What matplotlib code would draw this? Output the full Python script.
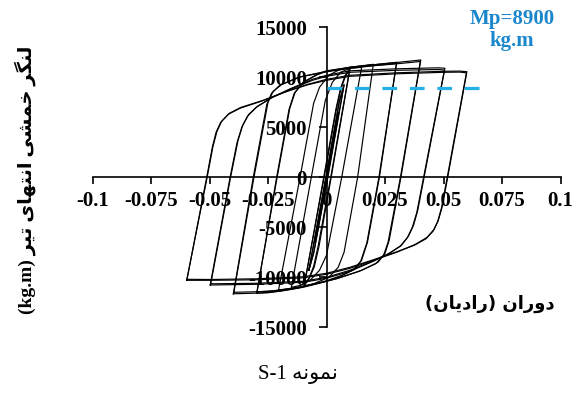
import numpy as np
import matplotlib
matplotlib.use("Agg")
import matplotlib.pyplot as plt

plt.rcParams['axes.unicode_minus'] = False

# Hysteresis loops: rotation (rad), end moment (kg.m)
# each loop = upward branch (neg. peak -> pos. peak) + downward branch (pos. peak -> neg. peak)
loop_00375_up = [(-0.00375, -4900), (0.0, 150), (0.00375, 4900)]
loop_00375_dn = [(0.00375, 4900), (0.0, -150), (-0.00375, -4900)]
loop_005_up = [(-0.005, -6500), (-0.0001, 0), (0.005, 6500)]
loop_005_dn = [(0.005, 6500), (0.0001, 0), (-0.005, -6500)]
loop_0075_up = [(-0.0075, -9300), (-0.0003, 0), (0.0055, 7600), (0.0075, 9300)]
loop_0075_dn = [(0.0075, 9300), (0.0004, 0), (-0.0055, -7600), (-0.0075, -9300)]
loop_0075b_up = [(-0.0075, -9200), (-0.0002, 0), (0.0054, 7500), (0.0075, 9200)]
loop_0075b_dn = [(0.0075, 9200), (0.0006, 0), (-0.0054, -7500), (-0.0075, -9200)]
loop_01_up = [(-0.0095, -10850), (-0.0012, 0), (0.0040, 6800), (0.0060, 8900),
              (0.0080, 10200), (0.010, 10900)]
loop_01_dn = [(0.010, 10900), (0.0018, 0), (-0.0035, -6800), (-0.0055, -8900),
              (-0.0075, -10100), (-0.0095, -10850)]
loop_01b_up = [(-0.0095, -10750), (-0.0010, 0), (0.0043, 6900), (0.0063, 8950),
               (0.0082, 10150), (0.010, 10800)]
loop_01b_dn = [(0.010, 10800), (0.0020, 0), (-0.0032, -6900), (-0.0052, -8950),
               (-0.0073, -10050), (-0.0095, -10750)]
loop_015_up = [(-0.015, -11000), (-0.0065, 0), (-0.0005, 7700), (0.0025, 9500),
               (0.006, 10500), (0.010, 10900), (0.015, 11000)]
loop_015_dn = [(0.015, 11000), (0.0065, 0), (0.0, -7800), (-0.003, -9300),
               (-0.007, -10300), (-0.011, -10800), (-0.015, -11000)]
loop_02_up = [(-0.0205, -11270), (-0.0113, 0), (-0.0055, 7400), (-0.003, 9000),
              (0.001, 10200), (0.005, 10700), (0.010, 11000), (0.020, 11300)]
loop_02_dn = [(0.020, 11300), (0.0133, 0), (0.0075, -7500), (0.0050, -9000),
              (0.001, -10000), (-0.005, -10600), (-0.012, -11050), (-0.0205, -11270)]
loop_03_up = [(-0.0298, -11600), (-0.0213, 0), (-0.0160, 6800), (-0.0138, 8400),
              (-0.010, 9500), (-0.004, 10300), (0.0, 10650), (0.010, 11000),
              (0.020, 11250), (0.030, 11500)]
loop_03_dn = [(0.030, 11500), (0.0226, 0), (0.0175, -6500), (0.0150, -8300),
              (0.012, -9200), (0.006, -9900), (0.0, -10400), (-0.010, -11000),
              (-0.020, -11400), (-0.0298, -11600)]
loop_03b_up = [(-0.0297, -11450), (-0.0211, 0), (-0.0157, 6900), (-0.0134, 8500),
               (-0.0095, 9550), (-0.004, 10250), (0.0, 10600), (0.010, 10950),
               (0.020, 11180), (0.0299, 11380)]
loop_03b_dn = [(0.0299, 11380), (0.0224, 0), (0.0172, -6600), (0.0146, -8400),
               (0.0115, -9250), (0.006, -9850), (0.0, -10350), (-0.010, -10950),
               (-0.020, -11300), (-0.0297, -11450)]
loop_04_up = [(-0.0398, -11650), (-0.0313, 0), (-0.0255, 7300), (-0.0235, 8400),
              (-0.020, 9200), (-0.012, 10000), (0.0, 10600), (0.010, 11000),
              (0.020, 11250), (0.030, 11480), (0.0403, 11730)]
loop_04_dn = [(0.0403, 11730), (0.0318, 0), (0.0268, -6300), (0.0250, -7600),
              (0.022, -8500), (0.015, -9300), (0.005, -10100), (-0.005, -10700),
              (-0.015, -11200), (-0.025, -11550), (-0.0398, -11650)]
loop_04b_up = [(-0.0396, -11500), (-0.0310, 0), (-0.0250, 7500), (-0.0228, 8600),
               (-0.019, 9300), (-0.011, 10050), (0.0, 10550), (0.010, 10900),
               (0.020, 11150), (0.030, 11350), (0.0401, 11580)]
loop_04b_dn = [(0.0401, 11580), (0.0316, 0), (0.0263, -6500), (0.0244, -7800),
               (0.021, -8650), (0.014, -9400), (0.004, -10150), (-0.005, -10650),
               (-0.015, -11100), (-0.025, -11420), (-0.0396, -11500)]
loop_05_up = [(-0.0497, -10770), (-0.0412, 0), (-0.0382, 3500), (-0.0362, 5000),
              (-0.0338, 6100), (-0.030, 7000), (-0.024, 7900), (-0.016, 8800),
              (-0.006, 9800), (0.0, 10200), (0.010, 10650), (0.030, 10850),
              (0.048, 10950), (0.0506, 10900)]
loop_05_dn = [(0.0506, 10900), (0.0417, 0), (0.0390, -3300), (0.0372, -4800),
              (0.0350, -5900), (0.0320, -6800), (0.027, -7600), (0.020, -8400),
              (0.010, -9400), (0.0, -10100), (-0.010, -10500), (-0.030, -10700),
              (-0.0497, -10770)]
loop_05b_up = [(-0.0495, -10700), (-0.0410, 0), (-0.0378, 3700), (-0.0358, 5200),
               (-0.0332, 6300), (-0.0295, 7100), (-0.023, 8000), (-0.015, 8850),
               (-0.006, 9700), (0.0, 10100), (0.010, 10500), (0.030, 10700),
               (0.048, 10780), (0.0504, 10720)]
loop_05b_dn = [(0.0504, 10720), (0.0415, 0), (0.0386, -3500), (0.0367, -5000),
               (0.0345, -6050), (0.0315, -6900), (0.026, -7700), (0.019, -8450),
               (0.010, -9300), (0.0, -10000), (-0.010, -10400), (-0.030, -10600),
               (-0.0495, -10650)]
loop_06_up = [(-0.0597, -10300), (-0.0512, 0), (-0.0488, 3000), (-0.0472, 4500),
              (-0.0452, 5500), (-0.0420, 6300), (-0.0370, 6900), (-0.028, 7600),
              (-0.018, 8500), (-0.008, 9300), (0.0, 9800), (0.010, 10200),
              (0.030, 10450), (0.050, 10600), (0.057, 10620), (0.060, 10560)]
loop_06_dn = [(0.060, 10560), (0.0518, 0), (0.0494, -3000), (0.0478, -4300),
              (0.0460, -5200), (0.0430, -6000), (0.0380, -6700), (0.030, -7500),
              (0.020, -8300), (0.010, -9100), (0.0, -9700), (-0.010, -10050),
              (-0.030, -10250), (-0.050, -10300), (-0.0597, -10300)]
loop_06b_up = [(-0.0597, -10250), (-0.0510, 0), (-0.0485, 3100), (-0.0468, 4600),
               (-0.0448, 5600), (-0.0415, 6400), (-0.0365, 7000), (-0.027, 7700),
               (-0.017, 8600), (-0.008, 9250), (0.0, 9700), (0.010, 10100),
               (0.030, 10350), (0.050, 10500), (0.057, 10520), (0.0598, 10450)]
loop_06b_dn = [(0.0598, 10450), (0.0516, 0), (0.0491, -3100), (0.0474, -4500),
               (0.0455, -5400), (0.0425, -6150), (0.0375, -6800), (0.030, -7450),
               (0.020, -8250), (0.010, -9000), (0.0, -9600), (-0.010, -9950),
               (-0.030, -10150), (-0.050, -10220), (-0.0595, -10200)]

loops = [
    (loop_00375_up, loop_00375_dn), (loop_005_up, loop_005_dn),
    (loop_0075_up, loop_0075_dn), (loop_0075b_up, loop_0075b_dn),
    (loop_01_up, loop_01_dn), (loop_01b_up, loop_01b_dn),
    (loop_015_up, loop_015_dn), (loop_02_up, loop_02_dn),
    (loop_03_up, loop_03_dn), (loop_03b_up, loop_03b_dn),
    (loop_04_up, loop_04_dn), (loop_04b_up, loop_04b_dn),
    (loop_05_up, loop_05_dn), (loop_05b_up, loop_05b_dn),
    (loop_06_up, loop_06_dn), (loop_06b_up, loop_06b_dn),
]

# plastic moment line
mp_value = 8900
mp_rotation = [0.0, 0.0655]

x_ticks = [-0.1, -0.075, -0.05, -0.025, 0, 0.025, 0.05, 0.075, 0.1]
x_tick_labels = ['-0.1', '-0.075', '-0.05', '-0.025', '0', '0.025', '0.05', '0.075', '0.1']
y_ticks = [-15000, -10000, -5000, 0, 5000, 10000, 15000]
y_tick_labels = ['-15000', '-10000', '-5000', '0', '5000', '10000', '15000']

# Persian letters -> (isolated, final, initial, medial) presentation forms
FORMS = {
    'ا': ('\uFE8D', '\uFE8E', None, None),
    'ت': ('\uFE95', '\uFE96', '\uFE97', '\uFE98'),
    'خ': ('\uFEA5', '\uFEA6', '\uFEA7', '\uFEA8'),
    'د': ('\uFEA9', '\uFEAA', None, None),
    'ر': ('\uFEAD', '\uFEAE', None, None),
    'ش': ('\uFEB5', '\uFEB6', '\uFEB7', '\uFEB8'),
    'ل': ('\uFEDD', '\uFEDE', '\uFEDF', '\uFEE0'),
    'م': ('\uFEE1', '\uFEE2', '\uFEE3', '\uFEE4'),
    'ن': ('\uFEE5', '\uFEE6', '\uFEE7', '\uFEE8'),
    'ه': ('\uFEE9', '\uFEEA', '\uFEEB', '\uFEEC'),
    'و': ('\uFEED', '\uFEEE', None, None),
    'ی': ('\uFBFC', '\uFBFD', '\uFBFE', '\uFBFF'),
    'گ': ('\uFB92', '\uFB93', '\uFB94', '\uFB95'),
}


def shape_word(word):
    out = []
    for i, ch in enumerate(word):
        iso, fin, ini, med = FORMS[ch]
        prev_joins = i > 0 and FORMS[word[i - 1]][2] is not None
        next_joins = ini is not None and i < len(word) - 1
        if prev_joins and next_joins:
            out.append(med)
        elif prev_joins:
            out.append(fin)
        elif next_joins:
            out.append(ini)
        else:
            out.append(iso)
    return ''.join(reversed(out))


def rtl(words):
    return ' '.join(shape_word(w) for w in reversed(words))


serif_fa = ['Liberation Serif', 'DejaVu Sans']

fig = plt.figure(figsize=(5.81, 3.94), dpi=100)
ax = fig.add_axes([92.5 / 581, 1 - 327.3 / 394, 468 / 581, 300 / 394])

for up, dn in loops:
    pts = np.array(up + dn[1:])
    ax.plot(pts[:, 0], pts[:, 1], color='black', lw=0.85, zorder=2)

ax.plot(mp_rotation, [mp_value, mp_value], color='#22B0E6', lw=2.3,
        dashes=(4.6, 4.0), zorder=4)

ax.set_xlim(-0.1, 0.1)
ax.set_ylim(-15000, 15000)
ax.spines['left'].set_position(('data', 0))
ax.spines['bottom'].set_position(('data', 0))
ax.spines['top'].set_visible(False)
ax.spines['right'].set_visible(False)
for s in ('left', 'bottom'):
    ax.spines[s].set_linewidth(1.2)
    ax.spines[s].set_zorder(3)

ax.set_xticks(x_ticks)
ax.set_xticklabels(x_tick_labels, family='Liberation Serif', weight='bold', fontsize=15)
ax.set_yticks(y_ticks)
ax.set_yticklabels(y_tick_labels, family='Liberation Serif', weight='bold', fontsize=15)
ax.tick_params(axis='x', direction='out', length=5, width=1.2, pad=5)
ax.tick_params(axis='y', direction='out', length=6, width=1.2, pad=8)

fig.text(25 / 581, 1 - 180 / 394, '(kg.m) ' + rtl(['لنگر', 'خمشی', 'انتهای', 'تیر']),
         rotation=90, ha='center', va='center', fontsize=14, weight='bold',
         family=serif_fa)
fig.text(490 / 581, 1 - 304 / 394,
         '(' + shape_word('رادیان') + ') ' + shape_word('دوران'),
         ha='center', va='center', fontsize=13, weight='bold', family='DejaVu Sans')
fig.text(298 / 581, 1 - 374 / 394, 'S-1 ' + shape_word('نمونه'),
         ha='center', va='center', fontsize=15, family=serif_fa)
fig.text(512 / 581, 1 - 30 / 394, 'Mp=8900\nkg.m', ha='center', va='center',
         fontsize=15, weight='bold', family='Liberation Serif', color='#1A87CC',
         linespacing=1.1)

fig.savefig('out.png', dpi=100)
